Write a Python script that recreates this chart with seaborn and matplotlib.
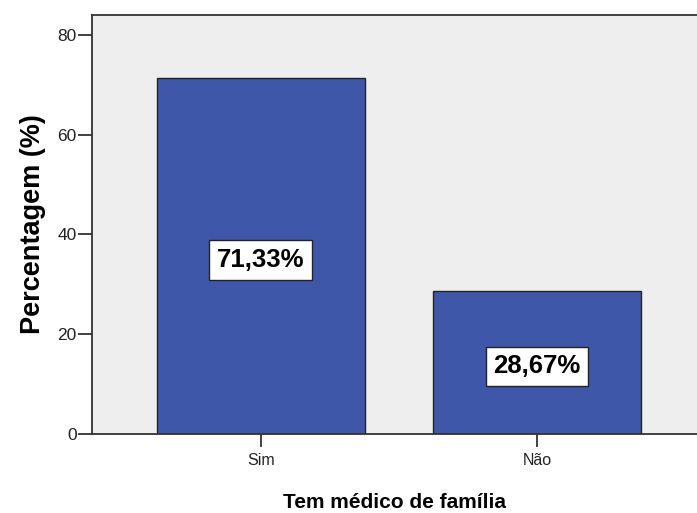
import numpy as np
import pandas as pd
import matplotlib
matplotlib.use("Agg")
import matplotlib.pyplot as plt
import seaborn as sns

categories = ["Sim", "Não"]
percentages = [71.33, 28.67]
value_labels = ["71,33%", "28,67%"]
y_ticks = [0, 20, 40, 60, 80]

sns.set_style("white")
plt.rcParams["font.family"] = ["Liberation Sans", "DejaVu Sans"]

df = pd.DataFrame({"categoria": categories, "pct": percentages})

fig = plt.figure(figsize=(6.97, 5.13), dpi=100)
ax = fig.add_axes([92 / 697, 79 / 513, 1 - 92 / 697, (434 - 15) / 513])
ax.set_facecolor("#eeeeee")

sns.barplot(data=df, x="categoria", y="pct", order=categories, color="#3e57a9",
            saturation=1, width=0.754, edgecolor="#222222", linewidth=1.0, ax=ax)

for i, (val, lab) in enumerate(zip(percentages, value_labels)):
    ax.text(i, val / 2 - 0.8, lab, ha="center", va="center", fontsize=18.5,
            fontweight="bold", color="black", linespacing=1.0,
            bbox=dict(boxstyle="square,pad=0.3", facecolor="white",
                      edgecolor="#222222", linewidth=1.0))

ax.set_xlim(-0.612, 1.58)
ax.set_ylim(0, 84)
ax.set_yticks(y_ticks)
ax.set_yticklabels([str(t) for t in y_ticks])

for side in ["left", "bottom", "top"]:
    ax.spines[side].set_visible(True)
    ax.spines[side].set_color("#333333")
    ax.spines[side].set_linewidth(1.3)
ax.spines["right"].set_visible(False)

ax.tick_params(axis="y", direction="out", length=10, width=1.3,
               color="#333333", labelsize=12.5, labelcolor="#222222",
               left=True, pad=1)
ax.tick_params(axis="x", direction="out", length=9, width=1.3,
               color="#333333", labelsize=11.5, labelcolor="#222222",
               bottom=True, pad=5)

ax.set_xlabel("Tem médico de família", fontsize=15, fontweight="bold",
              labelpad=18, color="black")
ax.set_ylabel("Percentagem (%)", fontsize=19.5, fontweight="bold", labelpad=8,
              color="black")

fig.savefig("out.png", dpi=100)
